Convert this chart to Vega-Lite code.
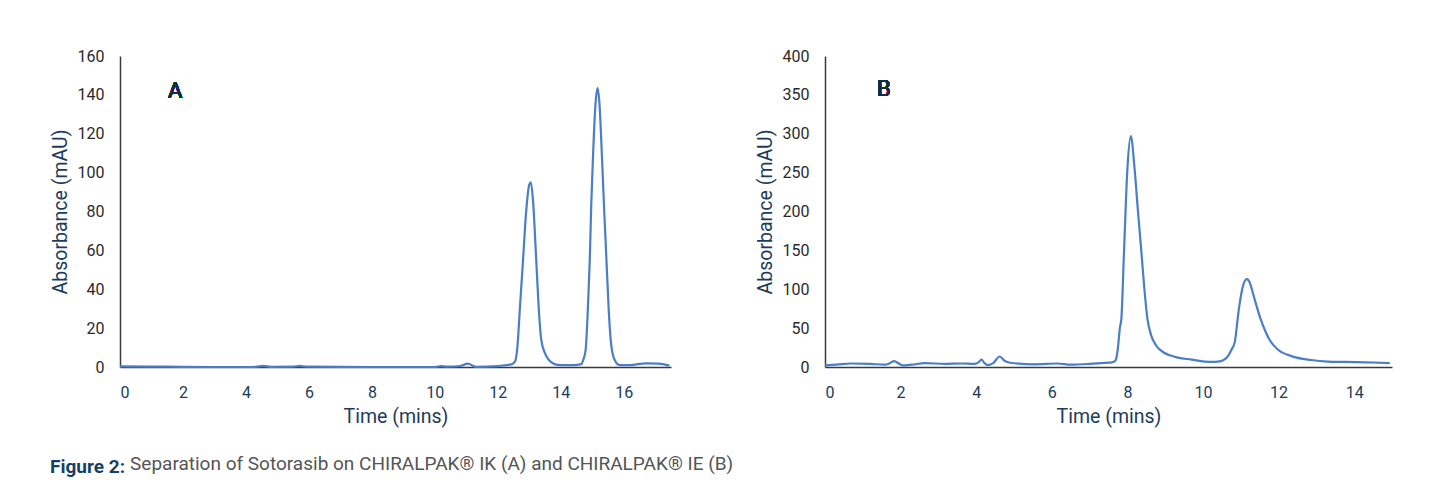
{
  "$schema": "https://vega.github.io/schema/vega-lite/v6.json",
  "background": "white",
  "padding": {"left": 50, "top": 48, "right": 5, "bottom": 5},
  "datasets": {
    "ik": [
      {"t": 0, "v": 0.3}, {"t": 1, "v": 0.2}, {"t": 2, "v": 0.1}, {"t": 3, "v": 0.0}, {"t": 4, "v": 0.0},
      {"t": 4.3, "v": 0.1}, {"t": 4.55, "v": 0.6}, {"t": 4.8, "v": 0.1}, {"t": 5.5, "v": 0.2}, {"t": 5.7, "v": 0.6},
      {"t": 5.9, "v": 0.2}, {"t": 7, "v": 0.1}, {"t": 8, "v": 0.0}, {"t": 9, "v": 0.0}, {"t": 10, "v": 0.0},
      {"t": 10.2, "v": 0.5}, {"t": 10.4, "v": 0.2}, {"t": 10.8, "v": 0.5}, {"t": 11.05, "v": 1.7}, {"t": 11.3, "v": 0.1},
      {"t": 12, "v": 0.5}, {"t": 12.45, "v": 1.5}, {"t": 12.55, "v": 3}, {"t": 12.62, "v": 10}, {"t": 12.7, "v": 30},
      {"t": 12.8, "v": 55}, {"t": 12.9, "v": 80}, {"t": 13.0, "v": 94}, {"t": 13.05, "v": 95}, {"t": 13.12, "v": 85},
      {"t": 13.22, "v": 55}, {"t": 13.3, "v": 30}, {"t": 13.38, "v": 14}, {"t": 13.5, "v": 7}, {"t": 13.6, "v": 4},
      {"t": 13.8, "v": 1.5}, {"t": 14.0, "v": 1.0}, {"t": 14.4, "v": 1.0}, {"t": 14.65, "v": 1.5}, {"t": 14.72, "v": 4},
      {"t": 14.79, "v": 9}, {"t": 14.86, "v": 30}, {"t": 14.92, "v": 55}, {"t": 14.97, "v": 85}, {"t": 15.02, "v": 107},
      {"t": 15.1, "v": 135}, {"t": 15.17, "v": 143.5}, {"t": 15.23, "v": 135}, {"t": 15.31, "v": 107}, {"t": 15.38, "v": 80},
      {"t": 15.45, "v": 55}, {"t": 15.52, "v": 30}, {"t": 15.59, "v": 13}, {"t": 15.7, "v": 4}, {"t": 15.87, "v": 1},
      {"t": 16.2, "v": 1}, {"t": 16.7, "v": 1.9}, {"t": 17.1, "v": 1.7}, {"t": 17.45, "v": 0.7}
    ],
    "ie": [
      {"t": 0, "v": 2}, {"t": 0.3, "v": 3}, {"t": 0.7, "v": 4.5}, {"t": 1.2, "v": 4}, {"t": 1.58, "v": 3},
      {"t": 1.7, "v": 4.5}, {"t": 1.83, "v": 7.5}, {"t": 1.95, "v": 4.5}, {"t": 2.06, "v": 2}, {"t": 2.3, "v": 3},
      {"t": 2.64, "v": 5}, {"t": 3.17, "v": 4}, {"t": 3.6, "v": 4.5}, {"t": 3.96, "v": 4}, {"t": 4.06, "v": 6},
      {"t": 4.14, "v": 9.5}, {"t": 4.22, "v": 5}, {"t": 4.31, "v": 2.5}, {"t": 4.45, "v": 5}, {"t": 4.62, "v": 13.5},
      {"t": 4.75, "v": 8}, {"t": 4.9, "v": 5.5}, {"t": 5.55, "v": 3.5}, {"t": 6.16, "v": 4.5}, {"t": 6.5, "v": 3},
      {"t": 7.0, "v": 4}, {"t": 7.3, "v": 5}, {"t": 7.6, "v": 6}, {"t": 7.68, "v": 8}, {"t": 7.71, "v": 12},
      {"t": 7.75, "v": 25}, {"t": 7.8, "v": 50}, {"t": 7.84, "v": 62}, {"t": 7.91, "v": 148}, {"t": 8.0, "v": 255},
      {"t": 8.09, "v": 297}, {"t": 8.19, "v": 255}, {"t": 8.28, "v": 200}, {"t": 8.37, "v": 148}, {"t": 8.45, "v": 100},
      {"t": 8.53, "v": 62}, {"t": 8.62, "v": 42}, {"t": 8.77, "v": 27}, {"t": 8.95, "v": 19}, {"t": 9.12, "v": 15},
      {"t": 9.34, "v": 12}, {"t": 9.7, "v": 9.5}, {"t": 10.04, "v": 7}, {"t": 10.3, "v": 6.5}, {"t": 10.48, "v": 7.5},
      {"t": 10.58, "v": 10}, {"t": 10.66, "v": 14}, {"t": 10.75, "v": 22}, {"t": 10.84, "v": 32}, {"t": 10.95, "v": 75},
      {"t": 11.05, "v": 103}, {"t": 11.16, "v": 113}, {"t": 11.25, "v": 107}, {"t": 11.32, "v": 95}, {"t": 11.42, "v": 78},
      {"t": 11.53, "v": 61}, {"t": 11.65, "v": 46}, {"t": 11.76, "v": 35}, {"t": 11.98, "v": 22.5}, {"t": 12.34, "v": 14},
      {"t": 12.86, "v": 9}, {"t": 13.3, "v": 7}, {"t": 13.75, "v": 6.5}, {"t": 14.5, "v": 5.8}, {"t": 14.94, "v": 5}
    ]
  },
  "config": {
    "font": "Roboto",
    "view": {"stroke": null},
    "axis": {
      "grid": false,
      "ticks": false,
      "labelOverlap": false,
      "domainColor": "#3a3a3a",
      "domainWidth": 1.5,
      "labelFont": "Roboto",
      "labelFontSize": 16,
      "titleFont": "Roboto",
      "titleFontSize": 19.5,
      "titleFontWeight": "normal",
      "titleColor": "#1d3b5a"
    },
    "axisX": {"labelColor": "#1d3b5a", "labelPadding": 17, "titlePadding": 7},
    "axisY": {"labelColor": "#2a2a2a", "labelPadding": 16, "titlePadding": 7}
  },
  "title": {
    "text": "Separation of Sotorasib on CHIRALPAK® IK (A) and CHIRALPAK® IE (B)",
    "orient": "bottom",
    "anchor": "start",
    "font": "Roboto",
    "fontSize": 19,
    "fontWeight": "normal",
    "color": "#555555",
    "offset": 0,
    "dx": 80,
    "dy": -22
  },
  "vconcat": [
    {
      "spacing": 81,
      "title": {
        "text": "Figure 2:",
        "orient": "bottom",
        "anchor": "start",
        "font": "Roboto",
        "fontSize": 19,
        "fontWeight": "bold",
        "color": "#173f63",
        "offset": 32
      },
      "hconcat": [
        {
          "width": 551,
          "height": 311,
          "data": {"name": "ik"},
          "layer": [
            {
              "mark": {"type": "line", "interpolate": "monotone", "color": "#4a7ec6", "strokeWidth": 2.2},
              "encoding": {
                "x": {"field": "t", "type": "quantitative", "scale": {"domain": [0, 17.5], "nice": false},
                      "axis": {"values": [0, 2, 4, 6, 8, 10, 12, 14, 16], "tickCount": 20, "title": "Time (mins)"}},
                "y": {"field": "v", "type": "quantitative", "scale": {"domain": [0, 160], "nice": false},
                      "axis": {"values": [0, 20, 40, 60, 80, 100, 120, 140, 160], "tickCount": 20, "title": "Absorbance (mAU)"}}
              }
            },
            {
              "mark": {"type": "text", "text": "A", "font": "Roboto", "fontSize": 22, "fontWeight": "normal", "color": "#0f2c48"},
              "encoding": {"x": {"datum": 1.75}, "y": {"datum": 142}}
            }
          ]
        },
        {
          "width": 567,
          "height": 311,
          "data": {"name": "ie"},
          "layer": [
            {
              "mark": {"type": "line", "interpolate": "monotone", "color": "#4a7ec6", "strokeWidth": 2.2},
              "encoding": {
                "x": {"field": "t", "type": "quantitative", "scale": {"domain": [0, 15], "nice": false},
                      "axis": {"values": [0, 2, 4, 6, 8, 10, 12, 14], "tickCount": 20, "title": "Time (mins)"}},
                "y": {"field": "v", "type": "quantitative", "scale": {"domain": [0, 400], "nice": false},
                      "axis": {"values": [0, 50, 100, 150, 200, 250, 300, 350, 400], "tickCount": 20, "title": "Absorbance (mAU)"}}
              }
            },
            {
              "mark": {"type": "text", "text": "B", "font": "Roboto", "fontSize": 22, "fontWeight": "normal", "color": "#0f2c48"},
              "encoding": {"x": {"datum": 1.56}, "y": {"datum": 357}}
            }
          ]
        }
      ]
    }
  ]
}
